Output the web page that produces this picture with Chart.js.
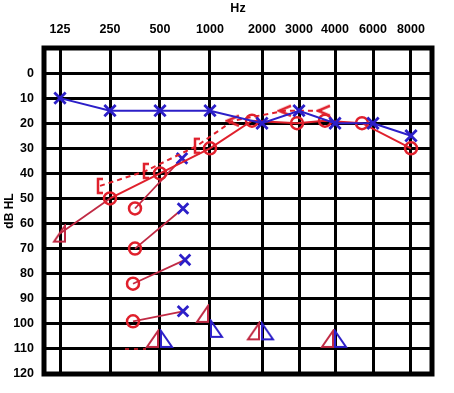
<!DOCTYPE html>
<html>
<head>
<meta charset="utf-8">
<script src="https://cdn.jsdelivr.net/npm/chart.js@4/dist/chart.umd.min.js"></script>
<style>
  html, body { margin: 0; padding: 0; background: #fff; }
  #wrap { width: 454px; height: 393px; }
</style>
</head>
<body>
<div id="wrap"><canvas id="c" width="454" height="393"></canvas></div>
<script>
// ---- data ----
const freqLabels = ['125', '250', '500', '1000', '2000', '3000', '4000', '6000', '8000'];
const freqPos = [0, 1, 2, 3, 4.04, 4.78, 5.5, 6.26, 7.02];   // axis position of each frequency
const dbTicks = [0, 10, 20, 30, 40, 50, 60, 70, 80, 90, 100, 110, 120];

const leftAirDb = [10, 15, 15, 15, 20, 15, 20, 20, 25];

const rightAirX = [1, 2, 3, 3.84, 4.74, 5.3, 6.04, 7.02];
const rightAirDb = [50, 40, 30, 19, 20, 19, 20, 30];

const rightBoneMaskedX = [0.8, 1.72, 2.74, 3.46, 4.5, 5.28];
const rightBoneMaskedDb = [45, 39, 29, 19, 15, 15];

const triLineX = [0, 1];
const triLineDb = [64, 50];

const pairCircleX = [1.5, 1.5, 1.46, 1.46];
const pairCircleDb = [54, 70, 84, 99];
const pairCrossX = [2.44, 2.46, 2.5, 2.46];
const pairCrossDb = [34, 54, 74.5, 95];

const redTriX = [1.86, 2.86, 3.88, 5.36];
const redTriDb = [106, 96, 103, 106];
const blueTriX = [2.12, 3.12, 4.14, 5.6];
const blueTriDb = [106, 102, 103, 106];

const fragX = [1.3, 1.72];
const fragDb = [110, 110];

// ---- styles ----
const BLUE = '#2c1fc8';
const RED = '#e0202c';
const MAROON = '#c02a44';

function mk(w, h, draw) {
  const c = document.createElement('canvas');
  c.width = w; c.height = h;
  const g = c.getContext('2d');
  g.lineJoin = 'miter';
  draw(g);
  return c;
}
const bracketImg = mk(10, 18, g => {
  g.strokeStyle = RED; g.lineWidth = 2.5;
  g.beginPath(); g.moveTo(8, 2); g.lineTo(3, 2); g.lineTo(3, 16); g.lineTo(8, 16); g.stroke();
});
const lessImg = mk(16, 14, g => {
  g.strokeStyle = RED; g.lineWidth = 2.5;
  g.beginPath(); g.moveTo(14, 2); g.lineTo(2, 7); g.lineTo(14, 12); g.stroke();
});
const redTriImg = mk(16, 20, g => {
  g.strokeStyle = MAROON; g.lineWidth = 2;
  g.beginPath(); g.moveTo(13, 2); g.lineTo(13, 18); g.lineTo(2, 18); g.closePath(); g.stroke();
});
const blueTriImg = mk(16, 20, g => {
  g.strokeStyle = BLUE; g.lineWidth = 2;
  g.beginPath(); g.moveTo(3, 2); g.lineTo(3, 18); g.lineTo(14, 18); g.closePath(); g.stroke();
});

const zip = (xs, ys) => xs.map((x, i) => ({ x: x, y: ys[i] }));

const datasets = [];
// left air conduction (blue X)
datasets.push({
  data: zip(freqPos, leftAirDb), borderColor: BLUE, borderWidth: 2,
  pointStyle: 'crossRot', pointRadius: 8, pointBorderWidth: 2.8, pointBorderColor: BLUE,
  pointBackgroundColor: BLUE, fill: false, tension: 0
});
// right air conduction (red O)
datasets.push({
  data: zip(rightAirX, rightAirDb), borderColor: RED, borderWidth: 2,
  pointStyle: 'circle', pointRadius: 6, pointBorderWidth: 2.5, pointBorderColor: RED,
  pointBackgroundColor: 'rgba(0,0,0,0)', fill: false, tension: 0
});
// right masked bone ([ and <), dashed
datasets.push({
  data: zip(rightBoneMaskedX, rightBoneMaskedDb), borderColor: RED, borderWidth: 2,
  borderDash: [5, 4],
  pointStyle: rightBoneMaskedX.map((_, i) => i < 3 ? bracketImg : lessImg),
  pointRadius: 6, fill: false, tension: 0
});
// triangle to 250 Hz line
datasets.push({
  data: zip(triLineX, triLineDb), borderColor: MAROON, borderWidth: 1.8,
  pointStyle: [redTriImg, false], pointRadius: [8, 0], fill: false, tension: 0
});
// circle-cross pairs
for (let i = 0; i < pairCircleX.length; i++) {
  datasets.push({
    data: [{ x: pairCircleX[i], y: pairCircleDb[i] }, { x: pairCrossX[i], y: pairCrossDb[i] }],
    borderColor: MAROON, borderWidth: 1.8,
    pointStyle: ['circle', 'crossRot'], pointRadius: [6, 7.5], pointBorderWidth: [2.5, 2.8],
    pointBorderColor: [RED, BLUE], pointBackgroundColor: ['rgba(0,0,0,0)', BLUE],
    fill: false, tension: 0
  });
}
// triangles
datasets.push({
  data: zip(redTriX, redTriDb), showLine: false, pointStyle: redTriImg, pointRadius: 8
});
datasets.push({
  data: zip(blueTriX, blueTriDb), showLine: false, pointStyle: blueTriImg, pointRadius: 8
});
// small dashed fragment
datasets.push({
  data: zip(fragX, fragDb), borderColor: RED, borderWidth: 1.5, borderDash: [4, 5],
  pointRadius: 0, fill: false
});

const frame = {
  id: 'frame',
  beforeDatasetsDraw(chart) {
    const a = chart.chartArea, ctx = chart.ctx;
    ctx.save();
    ctx.strokeStyle = '#000';
    ctx.lineWidth = 5;
    ctx.strokeRect(a.left, a.top, a.right - a.left, a.bottom - a.top);
    ctx.restore();
  }
};

const font = { family: 'Liberation Sans, Arial, sans-serif', size: 12.5, weight: 'bold' };

new Chart(document.getElementById('c'), {
  type: 'line',
  data: { datasets: datasets },
  plugins: [frame],
  options: {
    responsive: false,
    animation: false,
    events: [],
    layout: { padding: { top: 0, left: 0, right: 22, bottom: 19 } },
    plugins: { legend: { display: false }, tooltip: { enabled: false } },
    scales: {
      x: {
        type: 'linear', position: 'top', min: -0.32, max: 7.44,
        afterBuildTicks: s => { s.ticks = freqPos.map(v => ({ value: v })); },
        afterFit: s => { s.height = 48; },
        ticks: {
          autoSkip: false, maxRotation: 0, color: '#000', font: font, padding: 11,
          callback: (v, i) => freqLabels[i]
        },
        grid: { color: '#000', lineWidth: 3, drawTicks: false },
        border: { display: false },
        title: { display: true, text: 'Hz', color: '#000', font: font, padding: { top: 1, bottom: 0 } }
      },
      y: {
        type: 'linear', reverse: true, min: -10, max: 120,
        afterBuildTicks: s => { s.ticks = [-10].concat(dbTicks).map(v => ({ value: v })); },
        afterFit: s => { s.width = 44; },
        ticks: {
          autoSkip: false, color: '#000', font: font, padding: 10,
          callback: v => (v < 0 ? '' : String(v))
        },
        grid: { color: '#000', lineWidth: 3, drawTicks: false },
        border: { display: false },
        title: { display: true, text: 'dB HL', color: '#000', font: { family: font.family, size: 12, weight: 'bold' }, padding: { top: 2, bottom: 0 } }
      }
    }
  }
});
</script>
</body>
</html>
